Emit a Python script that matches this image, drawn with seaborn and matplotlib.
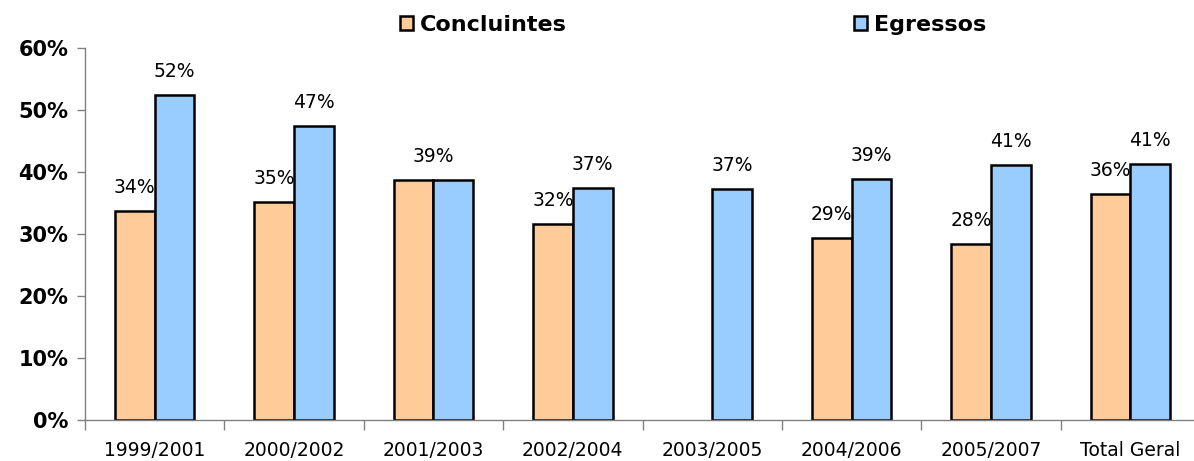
import numpy as np
import pandas as pd
import matplotlib
matplotlib.use("Agg")
import matplotlib.pyplot as plt
from matplotlib.patches import Patch
from matplotlib.ticker import PercentFormatter, FixedLocator
import seaborn as sns

# Data
periods = ['1999/2001', '2000/2002', '2001/2003', '2002/2004',
           '2003/2005', '2004/2006', '2005/2007', 'Total Geral']
concluintes = [33.7, 35.2, 38.7, 31.6, np.nan, 29.4, 28.4, 36.4]
egressos = [52.4, 47.4, 38.7, 37.4, 37.2, 38.9, 41.1, 41.3]
series_names = ['Concluintes', 'Egressos']
series_colors = ['#FFCC99', '#99CCFF']

df = pd.DataFrame({
    'Periodo': periods * 2,
    'Valor': concluintes + egressos,
    'Serie': [series_names[0]] * len(periods) + [series_names[1]] * len(periods),
})

sns.set_style('white')
plt.rcParams['font.family'] = ['DejaVu Sans']
plt.rcParams['text.color'] = 'black'
plt.rcParams['xtick.color'] = 'black'
plt.rcParams['ytick.color'] = 'black'

fig = plt.figure(figsize=(11.94, 4.61), dpi=100)
ax = fig.add_axes([85 / 1194, 1 - 420 / 461, (1200 - 85) / 1194, (420 - 48) / 461])

sns.barplot(data=df, x='Periodo', y='Valor', hue='Serie', order=periods,
            hue_order=series_names, palette=series_colors, width=0.57,
            edgecolor='black', linewidth=1.8, saturation=1, legend=False, ax=ax)

ax.set_ylim(0, 60)
ax.set_xlim(-0.5, len(periods) - 0.5)
ax.yaxis.set_major_locator(FixedLocator(np.arange(0, 61, 10)))
ax.yaxis.set_major_formatter(PercentFormatter(decimals=0))
ax.set_xlabel('')
ax.set_ylabel('')

# category boundary ticks on x
ax.set_xticks(np.arange(-0.5, len(periods), 1), minor=True)
ax.tick_params(axis='x', which='major', bottom=True, length=0, pad=15,
               labelsize=13.5, labelcolor='black')
ax.tick_params(axis='x', which='minor', bottom=True, length=7, width=1,
               color='#808080', direction='out')
ax.tick_params(axis='y', left=True, length=6, width=1, color='#808080',
               direction='out', pad=6, labelcolor='black')
for lbl in ax.get_yticklabels():
    lbl.set_fontweight('bold')
    lbl.set_fontsize(15)

for side in ['top', 'right']:
    ax.spines[side].set_visible(False)
for side in ['left', 'bottom']:
    ax.spines[side].set_color('#808080')
    ax.spines[side].set_linewidth(1)

# map bars to categories (seaborn drops the missing bar)
bars = [{}, {}]
for s, cont in enumerate(ax.containers[:2]):
    for p in cont:
        cat = int(round(p.get_x() + p.get_width() / 2))
        bars[s][cat] = p

# data labels
for i in range(len(periods)):
    vc, ve = concluintes[i], egressos[i]
    if i in bars[0] and round(vc) == round(ve):
        pc = bars[0][i]
        x = pc.get_x() + pc.get_width()
        ax.annotate(f'{ve:.0f}%', (x, ve), xytext=(0, 10), textcoords='offset points',
                    ha='center', va='bottom', fontsize=13.5, color='black')
        continue
    for s, v in ((0, vc), (1, ve)):
        if i not in bars[s]:
            continue
        p = bars[s][i]
        ax.annotate(f'{v:.0f}%', (p.get_x() + p.get_width() / 2, v), xytext=(0, 10),
                    textcoords='offset points', ha='center', va='bottom',
                    fontsize=13.5, color='black')

handles = [Patch(facecolor=c, edgecolor='black', linewidth=1.8) for c in series_colors]
fig.legend(handles, series_names, loc='center', bbox_to_anchor=(693 / 1194, 1 - 25 / 461),
           ncol=2, frameon=False, handlelength=0.6, handleheight=0.6, handletextpad=0.3,
           columnspacing=12.9, prop={'weight': 'bold', 'size': 16})

fig.savefig('out.png', dpi=100)
